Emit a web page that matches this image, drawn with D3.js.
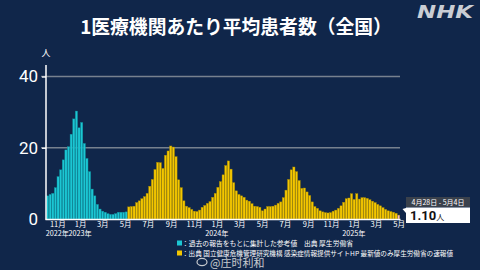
<!DOCTYPE html>
<html>
<head>
<meta charset="utf-8">
<script src="https://cdn.jsdelivr.net/npm/d3@7"></script>
<style>
  html, body { margin: 0; padding: 0; background: #10264a; }
  svg { display: block; }
  text { font-family: "Noto Sans CJK JP", "Noto Sans", sans-serif; }
</style>
</head>
<body>
<svg></svg>
<script>
// weekly values
var pastStart = "2022-10-03";   // first week of the estimated series
var pastValues = [6.5, 6.9, 7.2, 8.8, 11.9, 13.8, 16.6, 19.4, 20.3, 23.8, 28.1, 30.3, 25.6, 27.1,
	21.2, 17.0, 13.3, 8.4, 6.5, 4.1, 2.8, 2.2, 1.9, 1.5, 1.3, 1.3, 1.5, 1.9, 1.9, 1.9, 2.0];
var sentinelStart = "2023-05-08";  // first week of the sentinel series
var sentinelValues = [3.4, 3.5, 3.6, 4.6, 5.1, 5.7, 6.3, 7.2, 9.2, 11.1, 13.9, 15.9, 15.8, 14.2,
	17.9, 19.1, 20.5, 20.2, 17.5, 11.0, 8.8, 5.1, 3.6, 3.2, 2.7, 2.2, 2.1, 2.5, 3.3, 3.8,
	4.4, 4.9, 6.1, 7.2, 8.9, 10.5, 12.4, 15.0, 16.3, 14.0, 10.2, 7.9, 6.9, 6.5, 6.1, 5.3,
	5.0, 4.3, 3.6, 3.5, 3.3, 2.3, 2.8, 3.5, 3.5, 3.6, 3.9, 4.4, 4.8, 6.0, 8.1, 11.1,
	13.8, 14.6, 13.3, 10.8, 8.6, 8.7, 7.6, 6.6, 4.8, 3.5, 3.0, 2.3, 2.0, 1.8, 1.7, 1.8,
	2.2, 2.5, 3.0, 3.7, 4.7, 5.7, 5.9, 7.1, 5.5, 7.1, 5.6, 6.0, 6.0, 5.8, 5.4, 5.0,
	4.6, 4.1, 3.7, 3.2, 2.7, 2.3, 2.1, 1.9, 1.6, 1.10];
var yTicks = [0, 20, 40];
var monthTicks = ["2022-11-01", "2023-01-01", "2023-03-01", "2023-05-01", "2023-07-01", "2023-09-01",
	"2023-11-01", "2024-01-01", "2024-03-01", "2024-05-01", "2024-07-01", "2024-09-01",
	"2024-11-01", "2025-01-01", "2025-03-01", "2025-05-01"];
var yearLabels = [["2022-11-01", "2022年"], ["2023-01-01", "2023年"], ["2024-01-01", "2024年"], ["2025-01-01", "2025年"]];
var latestWeek = "4月28日 - 5月4日";
var latestValue = "1.10";

var width = 480, height = 270;
var cyan = "#1cc6d3", yellow = "#f3c600", pink = "#f2b6cf";
var parse = d3.timeParse("%Y-%m-%d");

var svg = d3.select("svg")
	.attr("width", width)
	.attr("height", height);

svg.append("rect")
	.attr("width", width)
	.attr("height", height)
	.attr("fill", "#10264a");

// build the weekly rows
var bars = [];
pastValues.forEach(function(v, i) {
	bars.push({ date: d3.timeDay.offset(parse(pastStart), 7 * i), value: v, type: "past" });
});
sentinelValues.forEach(function(v, i) {
	bars.push({ date: d3.timeDay.offset(parse(sentinelStart), 7 * i), value: v, type: "sentinel" });
});
bars[bars.length - 1].type = "latest";

var xScale = d3.scaleTime()
	.domain([bars[0].date, d3.timeDay.offset(bars[bars.length - 1].date, 7)])
	.range([46.5, 400.2]);

var yScale = d3.scaleLinear()
	.domain([0, 40])
	.range([219, 76.5]);

// grid lines
svg.append("g")
	.selectAll("line")
	.data(yTicks.filter(function(d) { return d > 0; }))
	.enter()
	.append("line")
	.attr("x1", 41)
	.attr("x2", 400)
	.attr("y1", function(d) { return yScale(d); })
	.attr("y2", function(d) { return yScale(d); })
	.attr("stroke", "#77818f")
	.attr("stroke-width", 1.3);

// bars
svg.append("g")
	.selectAll("rect")
	.data(bars)
	.enter()
	.append("rect")
	.attr("x", function(d) { return xScale(d.date); })
	.attr("y", function(d) { return yScale(d.value); })
	.attr("width", function(d) { return xScale(d3.timeDay.offset(d.date, 7)) - xScale(d.date) - 0.4; })
	.attr("height", function(d) { return yScale(0) - yScale(d.value); })
	.attr("fill", function(d) {
		return d.type == "past" ? cyan : (d.type == "latest" ? pink : yellow);
	})
	.attr("stroke", function(d) { return d.type == "past" ? "#0d8d99" : "#a88a00"; })
	.attr("stroke-width", 0.4);

// y axis
var yAxis = svg.append("g")
	.attr("transform", "translate(46,0)")
	.call(d3.axisLeft(yScale).tickValues(yTicks).tickSize(4).tickPadding(4));
yAxis.select(".domain").remove();
yAxis.selectAll("line").attr("stroke", "#ffffff").attr("stroke-width", 1.3);
yAxis.selectAll("text")
	.attr("fill", "#ffffff")
	.style("font-family", "Roboto, 'Noto Sans', sans-serif")
	.style("font-size", "17px");
yAxis.select(".tick line").remove();

svg.append("line")
	.attr("x1", 46).attr("x2", 46)
	.attr("y1", 65).attr("y2", yScale(0) + 0.7)
	.attr("stroke", "#ffffff")
	.attr("stroke-width", 1.5);

svg.append("text")
	.attr("x", 46)
	.attr("y", 56)
	.attr("text-anchor", "middle")
	.attr("fill", "#ffffff")
	.style("font-size", "9px")
	.text("人");

// x axis
var xAxis = svg.append("g")
	.attr("transform", "translate(0," + yScale(0) + ")")
	.call(d3.axisBottom(xScale)
		.tickValues(monthTicks.map(parse))
		.tickFormat(function(d) { return (d.getMonth() + 1) + "月"; })
		.tickSize(0)
		.tickPadding(3));
xAxis.select(".domain").attr("stroke", "#ffffff").attr("stroke-width", 1.5)
	.attr("d", "M45.5,0.5H400.5");
xAxis.selectAll("text")
	.attr("fill", "#ffffff")
	.style("font-size", "7.5px");

svg.append("g")
	.selectAll("text")
	.data(yearLabels)
	.enter()
	.append("text")
	.attr("x", function(d) { return xScale(parse(d[0])); })
	.attr("y", 236)
	.attr("text-anchor", "middle")
	.attr("fill", "#ffffff")
	.style("font-size", "7.2px")
	.text(function(d) { return d[1]; });

// title and logo
svg.append("text")
	.attr("x", 236)
	.attr("y", 34)
	.attr("text-anchor", "middle")
	.attr("fill", "#ffffff")
	.style("font-size", "18.8px")
	.style("font-weight", "bold")
	.text("1医療機関あたり平均患者数（全国）");

svg.append("text")
	.attr("x", 417)
	.attr("y", 18)
	.attr("fill", "#c9cdd4")
	.attr("textLength", 56)
	.attr("lengthAdjust", "spacingAndGlyphs")
	.style("font-family", "'DejaVu Sans', sans-serif")
	.style("font-size", "17px")
	.style("font-weight", "bold")
	.style("font-style", "italic")
	.text("NHK");

// legend
var legend = [
	[cyan, "：過去の報告をもとに集計した参考値　出典 厚生労働省", 171],
	[yellow, "：出典 国立健康危機管理研究機構 感染症情報提供サイトHP 最新値のみ厚生労働省の速報値", 271]
];
var lg = svg.append("g")
	.selectAll("g")
	.data(legend)
	.enter()
	.append("g")
	.attr("transform", function(d, i) { return "translate(177," + (240.5 + i * 10) + ")"; });
lg.append("rect")
	.attr("width", 5)
	.attr("height", 5)
	.attr("fill", function(d) { return d[0]; });
lg.append("text")
	.attr("x", 5)
	.attr("y", 5.3)
	.attr("fill", "#ffffff")
	.attr("textLength", function(d) { return d[2]; })
	.attr("lengthAdjust", "spacingAndGlyphs")
	.style("font-size", "6.6px")
	.text(function(d) { return d[1]; });

// latest value callout
var last = bars[bars.length - 1];
var cx = 406;
svg.append("rect")
	.attr("x", cx).attr("y", 197)
	.attr("width", 64).attr("height", 10)
	.attr("fill", "#3a414c");
svg.append("text")
	.attr("x", cx + 32).attr("y", 204.6)
	.attr("text-anchor", "middle")
	.attr("fill", "#ffffff")
	.style("font-size", "7px")
	.text(latestWeek);
svg.append("rect")
	.attr("x", cx).attr("y", 207.5)
	.attr("width", 64).attr("height", 15.5)
	.attr("fill", "#ffffff");
svg.append("path")
	.attr("d", "M" + (cx - 3.5) + "," + (yScale(last.value) - 6) + "L" + cx + ",208L" + cx + ",213Z")
	.attr("fill", "#ffffff");
var vt = svg.append("text")
	.attr("x", cx + 4).attr("y", 220)
	.attr("fill", "#111111");
vt.append("tspan")
	.style("font-size", "13px")
	.style("font-weight", "bold")
	.style("font-family", "Roboto, sans-serif")
	.text(latestValue);
vt.append("tspan")
	.style("font-size", "8px")
	.text("人");

// watermark
var wm = svg.append("g").attr("opacity", 0.85);
wm.append("ellipse")
	.attr("cx", 202).attr("cy", 262)
	.attr("rx", 5).attr("ry", 3.6)
	.attr("fill", "none")
	.attr("stroke", "#e6e6e6")
	.attr("stroke-width", 1.2);
wm.append("text")
	.attr("x", 210).attr("y", 266.5)
	.attr("fill", "#e6e6e6")
	.style("font-family", "'Noto Sans CJK SC', sans-serif")
	.style("font-size", "11px")
	.text("@庄时利和");
</script>
</body>
</html>
